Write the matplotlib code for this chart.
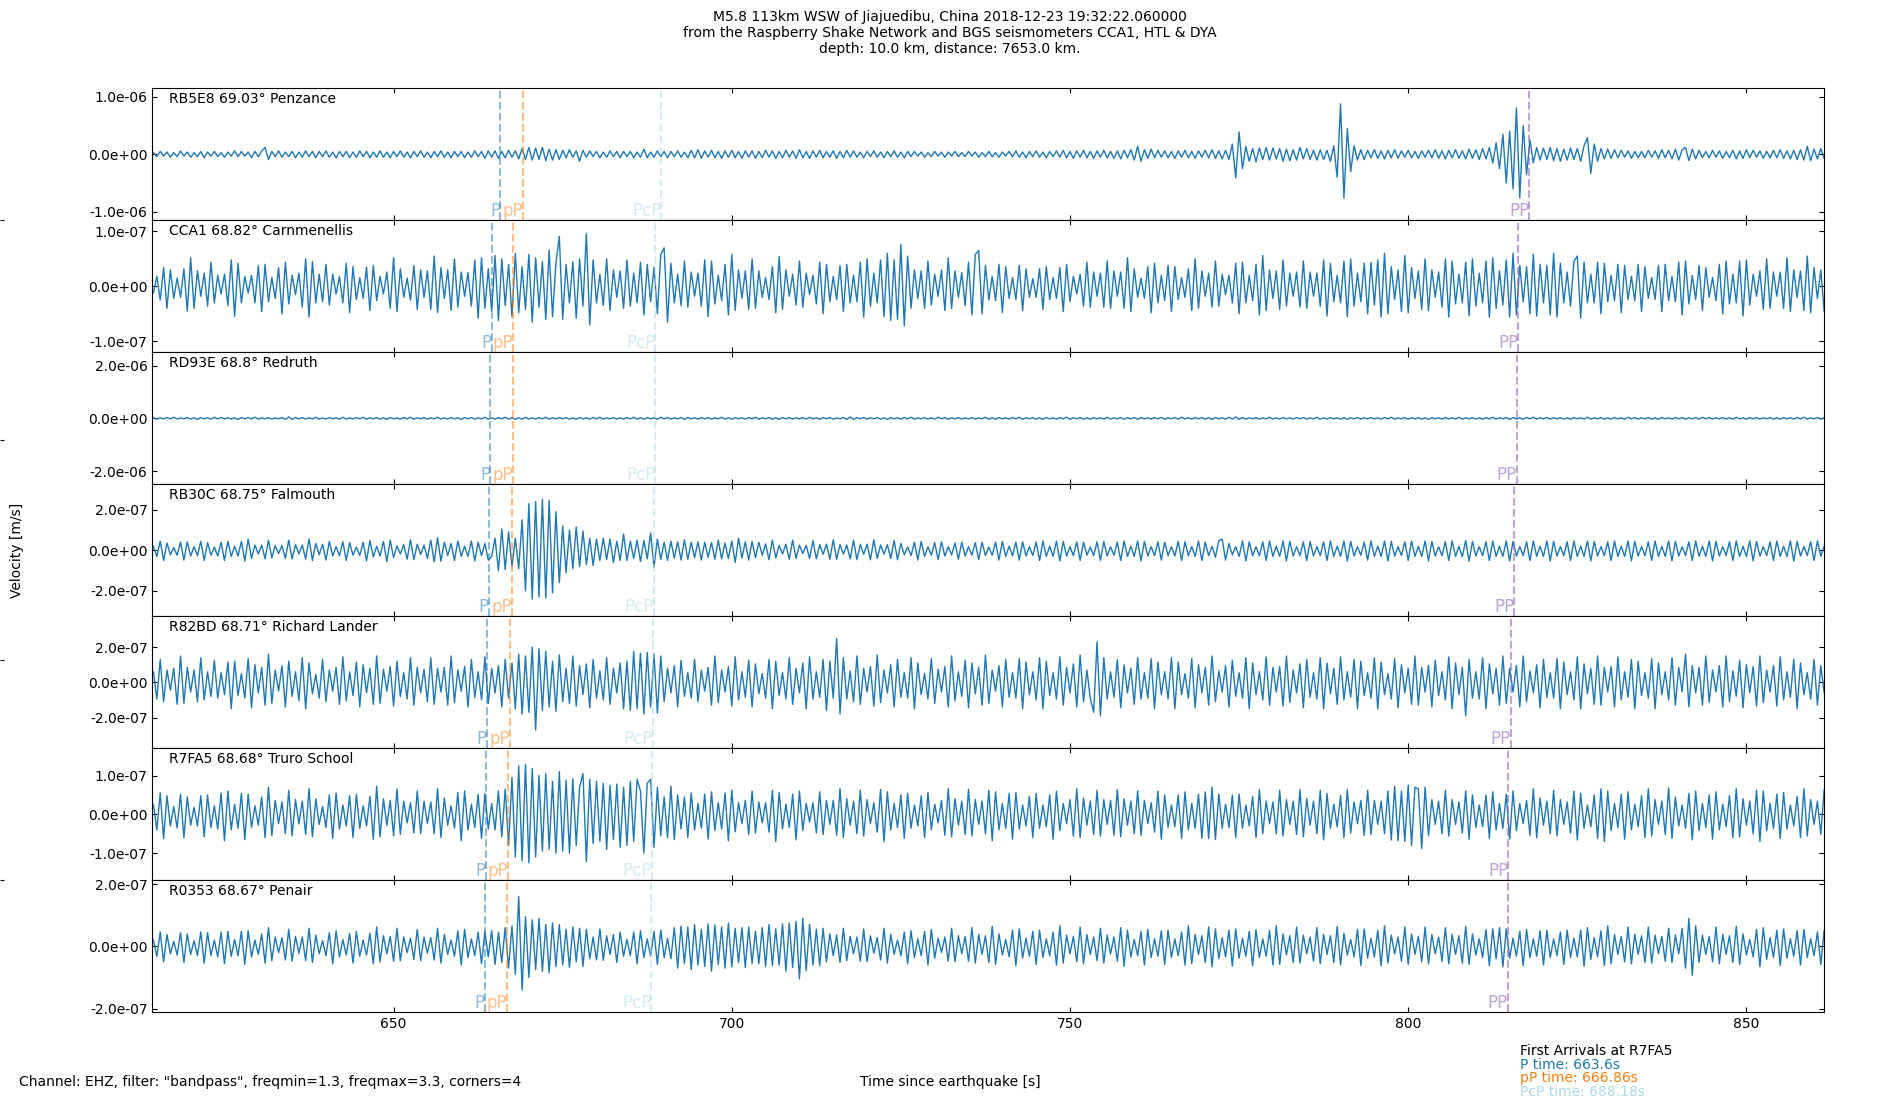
import numpy as np
import matplotlib
matplotlib.use('Agg')
import matplotlib.pyplot as plt
from matplotlib.ticker import FormatStrFormatter

# time of first sample and sample step of the traced peaks [s]
t0 = 614.5
dt = 0.5

stations = ['RB5E8', 'CCA1', 'RD93E', 'RB30C', 'R82BD', 'R7FA5', 'R0353']
distances = ['69.03', '68.82', '68.8', '68.75', '68.71', '68.68', '68.67']
locations = ['Penzance', 'Carnmenellis', 'Redruth', 'Falmouth', 'Richard Lander',
             'Truro School', 'Penair']
# unit of the numbers in each trace list [m/s]
units = [1e-8, 1e-9, 1e-8, 1e-9, 1e-9, 1e-9, 1e-9]
ylims = [1.15e-6, 1.2e-7, 2.5e-6, 3.25e-7, 3.75e-7, 1.7e-7, 2.12e-7]
tick_steps = [1e-6, 1e-7, 2e-6, 2e-7, 2e-7, 1e-7, 2e-7]

phases = ['P', 'pP', 'PcP', 'PP']
arrivals = [
    [665.8, 669.2, 689.6, 817.9],
    [664.5, 667.7, 688.7, 816.3],
    [664.3, 667.7, 688.7, 816.1],
    [664.1, 667.5, 688.5, 815.7],
    [663.8, 667.2, 688.3, 815.2],
    [663.6, 666.86, 688.18, 814.8],
    [663.5, 666.8, 688.1, 814.7],
]

# peak values, every 0.5 s (20 values = 10 s per row)
penzance = [
    3, -4, 5, -3, 4, -5, 3, -4, 6, -3, 4, -5, 3, -4, 5, -6, 4, -3, 5, -4,
    3, -5, 4, -3, 6, -4, 5, -3, 4, -6, 5, -4, 6, 12, -9, 5, -4, 6, -5, 4,
    -4, 5, -6, 4, -5, 6, -4, 5, -6, 5, -4, 6, -5, 4, -6, 5, -4, 5, -6, 4,
    -5, 6, -4, 5, -6, 4, -5, 6, -5, 4, -6, 5, -4, 6, -5, 4, -6, 5, -4, 6,
    -5, 4, -6, 5, -4, 6, -5, 4, -6, 5, -4, 5, -6, 4, -5, 6, -4, 5, -7, 6,
    -5, 6, -7, 5, -6, 7, -5, 6, -8, 10, -9, 12, -10, 11, -9, 12, -11, 9, -10, 8,
    -9, 7, -6, 8, -5, 6, -12, 7, -5, 6, -4, 5, -6, 4, -5, 6, -4, 5, -6, 5,
    -4, 5, -6, 4, -5, 9, -6, 4, -5, 6, -4, 5, -6, 5, -4, 6, -5, 4, -6, 7,
    -6, 8, -7, 6, -5, 7, -6, 5, -7, 6, -5, 7, -6, 5, -7, 6, -5, 6, -7, 5,
    -6, 7, -5, 6, -7, 5, -6, 7, -5, 6, -7, 8, -6, 5, -7, 6, -5, 7, -6, 5,
    -5, 6, -7, 5, -6, 7, -5, 6, -5, 4, -6, 5, -4, 6, -5, 4, -6, 5, -4, 6,
    -5, 4, -6, 5, -4, 5, -3, 4, -5, 3, -4, 5, -3, 4, -5, 4, -3, 5, -4, 3,
    -4, 5, -3, 4, -5, 3, -4, 5, -4, 3, -5, 4, -3, 5, -4, 6, -5, 4, -6, 5,
    -4, 6, -5, 4, -6, 5, -4, 6, -5, 7, -6, 5, -7, 6, -5, 7, -6, 5, -7, 6,
    -5, 7, -6, 5, -7, 6, -8, 7, -6, 8, -10, 14, -12, 8, -7, 9, -6, 7, -5, 6,
    -6, 5, -7, 6, -5, 7, -6, 5, -7, 6, -5, 7, -6, 8, -7, 6, -8, 7, -9, 18,
    -41, 39, -25, 14, -12, 10, -13, 11, -9, 12, -10, 11, -8, 10, -12, 9, -11, 8, -10, 12,
    -8, 10, -9, 7, -10, 8, -9, 7, -12, 15, -40, 88, -76, 45, -30, 15, -10, 8, -9, 7,
    -6, 8, -7, 6, -8, 7, -6, 8, -7, 6, -5, 7, -6, 5, -7, 6, -5, 7, -6, 8,
    -7, 6, -8, 7, -6, 8, -7, 6, -8, 9, -7, 8, -9, 10, -8, 12, -15, 20, -25, 35,
    -50, 40, -60, 81, -76, 50, -35, 25, -15, 12, -10, 11, -9, 12, -11, 10, -12, 9, -10, 11,
    -9, 10, -12, 15, 29, -33, 18, -12, 10, -8, 9, -7, 8, -6, 7, -5, 6, -7, 5, -6,
    5, -6, 7, -5, 6, -7, 8, -6, 7, -8, 9, -10, 8, 12, -11, 9, -8, 7, -6, 5,
    -6, 7, -5, 6, -7, 5, -6, 7, -8, 6, -7, 8, -6, 7, -5, 6, -7, 5, -6, 7,
    -6, 8, -7, 6, -8, 7, -9, 8, -10, 14, -11, 9, -8, 10, -7, 6,
]

carnmenellis = [
    -12, 18, -25, 34, -40, 30, -22, 15, -20, 32, -45, 52, -40, 28, -18, 24, -36, 44, -30, 20,
    -14, 22, -35, 48, -55, 42, -30, 18, -12, 20, -30, 38, -46, 40, -28, 16, -22, 34, -50, 44,
    -32, 20, -15, 24, -38, 50, -56, 45, -30, 22, -28, 40, -34, 22, -14, 18, -30, 42, -48, 36,
    -24, 16, -22, 35, -44, 38, -26, 18, -14, 26, -40, 52, -46, 32, -20, 15, -25, 38, -42, 30,
    -20, 28, -42, 55, -48, 34, -22, 30, -44, 50, -38, 26, -18, 25, -36, 48, -58, 52, -40, 32,
    -45, 56, -62, 50, -35, 40, -55, 60, -48, 36, -42, 58, -65, 52, -38, 45, -60, 66, -55, 42,
    91, -60, 40, -30, 45, -58, 50, -36, 96, -70, 48, -30, 22, -35, 50, -44, 30, -20, 28, -40,
    48, -36, 24, -30, 44, -52, 40, -28, 35, -50, 58, 70, -65, 42, -30, 22, -35, 46, -38, 26,
    -18, 24, -36, 48, -55, 46, -32, 20, -26, 40, -52, 58, -44, 30, -22, 28, -42, 50, -40, 28,
    -20, 16, -24, 36, -48, 54, -42, 30, -18, 22, -34, 46, -38, 24, -15, 20, -32, 44, -50, 40,
    -28, 18, -24, 38, -46, 40, -30, 20, -28, 44, -56, 50, -36, 24, -30, 48, -55, 60, -62, 48,
    -60, 76, -72, 55, -40, 30, -22, 28, -40, 46, -34, 22, -18, 30, -44, 52, -40, 28, -20, 25,
    -35, 44, -52, 58, 65, -50, 38, -25, 18, -26, 40, -48, 36, -22, 16, -24, 38, -44, 32, -20,
    14, -20, 32, -42, 36, -24, 16, -22, 34, -46, 40, -28, 18, -14, 22, -36, 44, -38, 26, -18,
    24, -38, 46, -40, 28, -18, 26, -40, 52, -46, 32, -20, 15, -22, 36, -48, 42, -30, 20, -26,
    38, -46, 36, -24, 16, -20, 32, -44, 50, -40, 28, -18, 24, -38, 46, -36, 22, -15, 20, -30,
    42, -50, 44, -30, 20, -26, 40, -52, 56, -44, 30, -22, 28, -42, 48, -36, 24, -18, 26, -38,
    46, -40, 26, -18, 24, -36, 48, -54, 42, -28, 20, -30, 46, -55, 50, -36, 24, -28, 42, -50,
    44, -34, 48, -56, 60, -50, 36, -24, 30, -46, 56, -48, 34, -22, 28, -42, 50, -44, 30, -20,
    26, -38, 50, -56, 46, -32, 22, -30, 44, -54, 50, -36, 24, -30, 46, -56, 52, -40, 28, -34,
    48, -56, 60, -52, 38, -28, 36, -50, 58, -54, 40, -30, 38, -52, 60, -56, 42, -30, 26, -36,
    45, 55, -58, 44, -30, 22, -30, 44, -50, 42, -28, 20, -26, 40, -48, 38, -24, 18, -26, 40,
    -46, 36, -22, 16, -24, 38, -46, 40, -26, 18, -28, 44, -52, 46, -32, 20, -24, 38, -44, 34,
    -20, 16, -26, 40, -50, 46, -32, 22, -30, 46, -54, 48, -34, 22, -18, 28, -42, 50, -40, 26,
    -18, 26, -40, 52, -46, 30, -20, 28, -44, 55, -48, 34, -22, 30, -46, 40,
]

redruth = [
    2, -3, 2, -2, 3, -2, 4, -3, 2, -2, 3, -3, 2, -4, 3, -2, 2, -3, 4, -2,
    3, -2, 2, -3, 2, -4, 3, -2, 3, -2, 4, -3, 2, -2, 3, -3, 2, -2, 3, -4,
    5, -4, 3, -2, 3, -3, 2, -2, 4, -3, 2, -3, 3, -2, 2, -3, 4, -3, 2, -2,
    3, -2, 4, -3, 2, -2, 3, -3, 2, -4, 3, -2, 2, -3, 3, -2, 4, -3, 2, -2,
    3, -3, 2, -2, 4, -3, 2, -3, 3, -2, 2, -4, 3, -2, 3, -3, 2, -2, 4, -3,
    2, -3, 3, -2, 4, -3, 3, -4, 2, -3, 4, -3, 2, -3, 3, -2, 4, -3, 2, -2,
    3, -2, 3, -3, 2, -4, 3, -2, 2, -3, 3, -2, 4, -3, 2, -2, 3, -3, 2, -3,
    3, -2, 4, -3, 2, -3, 3, -2, 2, -3, 4, -2, 3, -3, 2, -2, 3, -4, 3, -2,
    2, -3, 3, -2, 3, -3, 2, -2, 4, -3, 2, -3, 3, -2, 2, -3, 3, -2, 4, -3,
    2, -2, 3, -3, 2, -4, 3, -2, 3, -3, 2, -2, 3, -3, 4, -2, 2, -3, 3, -2,
    3, -3, 2, -2, 3, -4, 5, -4, 3, -2, 3, -3, 2, -2, 3, -3, 2, -4, 3, -2,
    2, -3, 3, -2, 4, -3, 2, -2, 3, -3, 2, -3, 4, -2, 3, -3, 2, -2, 3, -3,
    2, -2, 3, -3, 2, -2, 4, -3, 2, -3, 3, -2, 2, -3, 3, -2, 4, -3, 2, -2,
    3, -3, 2, -4, 3, -2, 2, -3, 3, -2, 4, -3, 2, -2, 3, -3, 2, -3, 3, -2,
    2, -3, 4, -3, 2, -2, 3, -3, 2, -2, 3, -4, 3, -2, 2, -3, 3, -2, 3, -3,
    2, -2, 3, -3, 4, -2, 2, -3, 3, -2, 3, -3, 2, -4, 3, -2, 2, -3, 4, -3,
    5, -4, 3, -3, 2, -2, 3, -3, 2, -2, 4, -3, 2, -3, 3, -2, 2, -3, 3, -2,
    3, -3, 2, -2, 4, -3, 2, -3, 3, -2, 2, -3, 3, -4, 2, -2, 3, -3, 2, -2,
    3, -2, 2, -3, 3, -2, 4, -3, 2, -2, 3, -3, 2, -2, 3, -3, 2, -4, 3, -2,
    2, -3, 3, -2, 2, -3, 4, -3, 2, -2, 3, -3, 2, -3, 3, -2, 4, -3, 2, -2,
    3, -4, 3, -2, 2, -3, 3, -2, 4, -3, 2, -2, 3, -3, 2, -2, 3, -3, 2, -3,
    3, -2, 2, -3, 4, -3, 2, -2, 3, -3, 2, -3, 3, -2, 2, -3, 4, -2, 3, -3,
    2, -2, 3, -3, 2, -4, 3, -2, 2, -3, 3, -2, 3, -3, 2, -2, 3, -3, 4, -2,
    3, -3, 2, -2, 3, -3, 2, -3, 4, -2, 2, -3, 3, -2, 3, -3, 2, -2, 3, -3,
    2, -3, 3, -2, 2, -3, 3, -2, 4, -3, 2, -2, 3, -3, 2, -2,
]

falmouth = [
    20, -30, 45, -50, 36, -22, 14, -24, 40, -48, 42, -28, 18, -26, 44, -50, 38, -24, 16, -28,
    40, -50, 44, -30, 20, -28, 44, -52, 55, -40, 26, -18, 26, -42, 50, -38, 24, -16, 24, -40,
    50, -42, 28, -18, 26, -44, 56, -50, 34, -22, 30, -48, 44, -28, 18, -26, 42, -50, 38, -24,
    16, -26, 40, -52, 48, -32, 20, -28, 44, -55, 50, -36, 22, -18, 28, -44, 52, -46, 30, -20,
    26, -40, 50, -56, 62, -54, 40, -26, 34, -50, 46, -30, 20, -30, 46, -52, 40, -26, 34, -48,
    -30, 60, -100, 105, -95, 90, -80, 60, -90, 150, -200, 230, -240, 240, -230, 250, -235, 245, -210, 190,
    -160, 120, -110, 100, -90, 115, -80, 95, -70, 60, -75, 55, -50, 60, -45, 55, -60, 45, -50, 80,
    -50, 45, -40, 50, -55, 48, -42, 86, -83, 55, -45, 40, -50, 45, -38, 42, -48, 52, -44, 40,
    -36, 42, -48, 40, -34, 38, -44, 50, -42, 36, -40, 46, -60, 60, -38, 42, -48, 44, -36, 40,
    -24, 32, -46, 50, -38, 24, -18, 30, -44, 50, -40, 26, -16, 24, -40, 48, -42, 28, -20, 30,
    -44, 52, -44, 28, -18, 26, -42, 50, -46, 30, -20, 30, -46, 52, -40, 26, -18, 28, -40, 48,
    -46, 34, -22, 16, -26, 40, -48, 44, -30, 18, -24, 38, -46, 42, -28, 18, -22, 36, -44, 40,
    -28, 18, -24, 38, -46, 40, -26, 16, -24, 40, -48, 44, -30, 20, -26, 40, -48, 42, -28, 18,
    -26, 40, -50, 46, -30, 20, -30, 46, -52, 44, -28, 18, -26, 42, -50, 40, -24, 16, -26, 42,
    -50, 44, -28, 18, -24, 40, -50, 46, -30, 20, -30, 46, -52, 44, -28, 18, -26, 42, -48, 40,
    -26, 18, -28, 44, -50, 42, -26, 18, -30, 46, -50, 40, -26, 20, -34, 48, 55, -48, 34, -22,
    18, -30, 46, -52, 42, -26, 18, -26, 42, -50, 46, -30, 20, -30, 46, -52, 44, -28, 18, -26,
    42, -50, 44, -28, 18, -26, 42, -50, 46, -30, 20, -30, 46, -52, 44, -28, 18, -24, 40, -48,
    46, -30, 20, -30, 46, -52, 44, -28, 18, -26, 42, -50, 46, -30, 20, -30, 46, -52, 44, -28,
    18, -26, 42, -50, 46, -30, 20, -32, 48, -54, 44, -28, 18, -26, 42, -50, 46, -30, 20, -30,
    46, -52, 44, -28, 18, -26, 42, -50, 46, -30, 20, -30, 46, -52, 44, -28, 18, -26, 42, -50,
    46, -30, 20, -30, 46, -52, 44, -28, 18, -26, 42, -50, 46, -30, 20, -30, 46, -52, 44, -28,
    18, -26, 42, -50, 46, -30, 20, -30, 46, -52, 44, -28, 18, -26, 42, -50, 46, -30, 20, -30,
    46, -52, 44, -28, 18, -26, 42, -50, 46, -30, 20, -30, 46, -52, 44, -28, 18, -26, 42, -50,
    46, -30, 20, -30, 46, -52, 44, -28, 18, -26, 42, -50, 46, -30, 20, -30,
]

richard_lander = [
    60, -95, 130, -110, 70, -45, 80, -125, 150, -120, 85, -55, 70, -110, 140, -100, 60, -80, 125, -90,
    55, -70, 115, -150, 120, -75, 50, -90, 135, -145, 100, -60, 85, -130, 160, -120, 70, -50, 95, -140,
    120, -80, 60, -105, 140, -150, 110, -65, 45, -90, 130, -110, 70, -50, 85, -125, 145, -105, 60, -75,
    115, -140, 100, -60, 80, -125, 150, -120, 75, -50, 90, -135, 120, -80, 55, -95, 140, -130, 85, -60,
    75, -110, 140, -125, 80, -55, 85, -130, 150, -115, 70, -50, 90, -140, 130, -85, 60, -100, 145, -120,
    80, -60, 95, -140, 130, -90, 110, -150, 160, -180, 150, -170, 200, -270, 190, -160, 175, -140, 120, -165,
    155, -110, 80, -120, 150, -135, 95, -70, 105, -145, 130, -90, 65, -100, 140, -125, 80, -60, 110, -150,
    120, -160, 175, -150, 165, -180, 170, -140, 160, -175, 150, -110, 80, -60, 95, -140, 125, -80, 55, -90,
    130, -110, 70, -50, 85, -130, 150, -115, 70, -55, 90, -135, 145, -100, 60, -85, 125, -140, 105, -65,
    50, -90, 130, -150, 120, -75, 55, -95, 140, -125, 80, -60, 110, -150, 145, -95, 60, -85, 130, -160,
    120, -90, 250, -180, 140, -95, 65, -110, 150, -125, 80, -55, 90, -135, 155, -115, 70, -60, 100, -140,
    130, -85, 55, -90, 140, -150, 110, -70, 50, -95, 135, -120, 75, -55, 90, -140, 150, -105, 60, -80,
    125, -145, 110, -65, 85, -130, 155, -120, 70, -50, 95, -140, 130, -85, 55, -90, 135, -150, 115, -70,
    60, -100, 140, -150, 120, -75, 55, -95, 145, -130, 85, -60, 105, -140, 155, -110, 70, -90, -170, 230,
    -190, 140, -95, 60, -85, 130, -145, 100, -60, 80, -125, 140, -95, 55, -90, 135, -150, 115, -70, 60,
    -95, 140, -150, 115, -70, 50, -90, 135, -145, 100, -60, 85, -130, 150, -110, 65, -55, 95, -140, 125,
    -80, 55, -90, 140, -150, 110, -70, 60, -100, 145, -130, 85, -55, 90, -135, 150, -115, 70, -60, 105,
    -145, 130, -85, 55, -95, 140, -150, 110, -65, 80, -125, 145, -100, 60, -85, 130, -150, 120, -75, 55,
    -90, 140, -150, 115, -70, 50, -95, 135, -145, 100, -60, 80, -125, 150, -130, 85, -55, 95, -140, 125,
    -75, 60, -100, 145, -150, 110, -70, 85, -190, 130, -90, 60, -95, 140, -150, 105, -65, 80, -130, 150,
    -120, 80, -55, 95, -140, 150, -110, 65, -60, 100, -145, 130, -85, 55, -90, 135, -150, 115, -70, 60,
    -100, 145, -150, 105, -65, 80, -125, 150, -130, 85, -55, 90, -140, 145, -100, 60, -85, 130, -150, 120,
    -75, 55, -90, 135, -150, 110, -70, 60, -100, 140, -130, 85, -55, 160, -140, 95, -60, 85, -130, 150,
    -115, 70, -55, 95, -140, 150, -110, 65, -80, 125, -145, 100, -60, 90, -135, 150, -115, 70, -55, 95,
    -135, 145, -100, 60, -85, 130, -150, 110, -70, 55, -95, 130, -130, 95, -60, 85,
]

truro = [
    25, -40, 55, -62, 48, -30, 20, -35, 52, -60, 45, -28, 18, -30, 48, -58, 50, -34, 22, -38,
    55, -68, 60, -40, 26, -36, 54, -65, 52, -34, 22, -28, 45, -60, 70, -55, 36, -24, 32, -50,
    62, -55, 38, -25, 34, -52, 66, -58, 40, -26, 20, -34, 50, -62, 55, -38, 24, -30, 48, -60,
    52, -36, 22, -30, 46, -64, 72, -58, 40, -28, 36, -55, 65, -52, 34, -22, 30, -48, 60, -50,
    34, -24, 32, -50, 66, -60, 42, -28, 22, -36, 56, -68, 60, -40, 26, -34, 52, -62, 54, -38,
    28, -40, 60, -58, 65, -80, 95, -110, 125, -120, 128, -125, 118, -110, 100, -95, 105, -90, 85, -100,
    110, -95, 88, -100, 92, -80, 70, 105, -122, 90, -75, 85, -70, 80, -90, 75, -65, 78, -85, 70,
    -80, 85, -70, 90, 60, -100, 80, 90, -85, 70, -55, 45, -60, 72, -65, 50, -38, 45, -60, 55,
    -40, 28, -36, 52, -64, 58, -42, 30, -38, 55, -68, 62, -45, 30, -24, 36, -52, 60, -48, 32,
    -22, 30, -46, 62, -70, 56, -38, 26, -34, 52, -66, 60, -42, 28, -20, 30, -48, 58, -52, 36,
    -26, 36, -54, 66, -60, 40, -28, 34, -50, 62, -56, 38, -24, 30, -46, 64, -70, 58, -40, 28,
    -34, 50, -62, 54, -36, 24, -30, 48, -60, 56, -40, 26, -22, 36, -54, 66, -58, 40, -28, 34,
    -52, 64, -56, 38, -26, 34, -50, 62, -68, 58, -40, 28, -36, 54, -64, 56, -38, 24, -30, 46,
    -60, 54, -36, 24, -32, 50, -64, 60, -42, 28, -24, 38, -56, 66, -60, 42, -28, 34, -52, 62,
    -56, 38, -26, 36, -54, 64, -58, 40, -28, 34, -50, 60, -54, 36, -24, 30, -46, 60, -64, 50,
    -34, 24, -32, 50, -62, 58, -40, 28, -36, 52, -62, 58, -62, 70, -65, 52, -36, 26, -34, 50,
    -60, 52, -36, 24, -30, 46, -60, 64, -50, 34, -24, 32, -50, 62, -56, 38, -26, 34, -52, 64,
    -58, 40, -28, 34, -50, 62, -66, 54, -36, 26, -32, 48, -60, 64, -48, 32, -24, 36, -54, 62,
    -52, 36, -26, 34, -50, 60, -66, 72, -68, 60, -70, 75, -80, 70, 65, -88, 70, -55, 38, -26,
    34, -50, 62, -56, 38, -26, 32, -48, 60, -64, 50, -34, 24, -32, 50, -62, 58, -40, 28, -36,
    52, -64, 60, -42, 28, -24, 36, -54, 66, -60, 42, -28, 34, -50, 62, -56, 38, -26, 32, -48,
    60, -66, 54, -36, 24, -32, 50, -62, 66, -70, 60, -42, 28, -34, 52, -64, 58, -40, 26, -32,
    48, -60, 66, -56, 38, -26, 34, -52, 68, -62, 44, -30, 24, -36, 54, -66, 60, -42, 28, -34,
    50, -64, 58, -40, 26, -32, 48, -60, 66, -58, 40, -28, 34, -50, 62, -70, 60, -42, 28, -36,
    52, -62, 56, -38, 24, -30, 46, -60, 66, -56, 38, -26, 34, -52, 64, -70,
]

penair = [
    20, -32, 46, -50, 38, -24, 16, -28, 44, -52, 40, -26, 18, -30, 46, -54, 44, -30, 20, -34,
    46, -56, 48, -32, 22, -30, 48, -58, 50, -34, 20, -26, 40, -54, 60, -46, 30, -20, 28, -44,
    55, -48, 32, -22, 30, -46, 58, -52, 36, -24, 18, -30, 44, -56, 50, -34, 22, -28, 42, -54,
    48, -32, 20, -28, 42, -56, 62, -50, 34, -24, 32, -48, 58, -46, 30, -20, 26, -42, 54, -46,
    30, -22, 28, -44, 58, -54, 38, -26, 20, -32, 50, -60, 54, -36, 24, -30, 46, -56, 48, -34,
    50, -58, 45, -52, 60, -70, 65, -90, 160, -140, 95, -100, 85, -75, 90, -80, 70, -85, 75, -65,
    70, -60, 55, -68, 62, -50, 58, -65, 55, -40, 30, -44, 56, -45, 34, -26, 38, -52, 46, -32,
    22, -30, 46, -56, 50, -36, 24, -32, 48, -58, 52, -36, 26, -40, 60, -70, 65, -55, 62, -75,
    70, -60, 55, -65, 72, -80, 68, -58, 62, -70, 75, -66, 58, -52, 60, -68, 62, -55, 48, -56,
    60, -65, 70, -62, 56, -60, 72, -80, 75, -68, 80, -105, 90, -78, 70, -60, 55, -62, 58, -50,
    40, -30, 36, -52, 58, -46, 32, -24, 30, -48, 56, -50, 34, -22, 28, -44, 58, -54, 38, -26,
    20, -30, 46, -56, 50, -36, 24, -30, 48, -60, 54, -38, 26, -20, 30, -48, 58, -50, 34, -24,
    32, -48, 60, -54, 38, -26, 34, -52, 64, -58, 40, -28, 22, -34, 52, -62, 56, -38, 26, -32,
    48, -58, 52, -36, 24, -30, 46, -60, 66, -54, 36, -24, 32, -50, 62, -56, 38, -26, 30, -46,
    58, -54, 36, -24, 30, -48, 60, -64, 52, -34, 22, -30, 48, -60, 54, -36, 24, -32, 50, -58,
    52, -36, 24, -30, 46, -60, 66, -56, 38, -26, 34, -52, 62, -66, 56, -40, 28, -34, 52, -64,
    56, -38, 26, -32, 48, -62, 54, -36, 24, -32, 50, -60, 66, -58, 40, -28, 34, -52, 62, -54,
    36, -24, 30, -48, 60, -56, 38, -26, 34, -52, 64, -60, 42, -28, 22, -34, 54, -62, 56, -38,
    26, -34, 52, -62, 66, -54, 36, -24, 30, -48, 62, -58, 40, -26, 32, -50, 62, -56, 38, -24,
    30, -48, 60, -56, 38, -26, 34, -54, 64, -58, 40, -28, 24, -36, 54, -62, 56, -40, 60, -66,
    56, -38, 26, -32, 48, -62, 54, -36, 24, -32, 50, -60, 52, -36, 24, -30, 46, -58, 52, -36,
    26, -34, 52, -64, 60, -42, 28, -34, 50, -62, 66, -56, 38, -26, 32, -50, 62, -56, 38, -26,
    34, -52, 62, -54, 36, -24, 32, -48, 58, -52, 36, -24, 58, -70, 90, -93, 66, -52, 36, -26,
    32, -50, 62, -56, 38, -26, 34, -52, 64, -58, 40, -28, 22, -34, 54, -66, 60, -42, 28, -36,
    52, -62, 56, -38, 24, -32, 50, -60, 54, -36, 24, -30, 46, -58, 52, -36,
]

traces = [penzance, carnmenellis, redruth, falmouth, richard_lander, truro, penair]

phase_colors = ['C0', 'C1', 'lightblue', 'C4']
phase_alpha = [0.5, 0.5, 0.5, 0.6]

fig, axes = plt.subplots(7, 1, figsize=(19, 11), dpi=100, sharex=True)
fig.subplots_adjust(left=0.0802, right=0.9602, top=0.9197, bottom=0.0797, hspace=0)

# frameless full-figure axes (only its small left ticks show)
bg = fig.add_axes([0, 0, 1, 1], frameon=False, zorder=-1)
bg.set_xticks([])
bg.set_yticks([0.2, 0.4, 0.6, 0.8])
bg.set_ylim(0, 1)
bg.tick_params(axis='y', direction='in', length=3, labelleft=False)

for i, ax in enumerate(axes):
    y = np.array(traces[i]) * units[i]
    t = t0 + dt * np.arange(len(y))
    ax.plot(t, y, color='C0', lw=1)
    ax.set_ylim(-ylims[i], ylims[i])
    ax.set_yticks([-tick_steps[i], 0, tick_steps[i]])
    ax.yaxis.set_major_formatter(FormatStrFormatter('%.1e'))
    ax.tick_params(direction='in', top=True, right=True, labelsize=10)
    for ph, at, c, a in zip(phases, arrivals[i], phase_colors, phase_alpha):
        ax.axvline(at, color=c, ls='--', lw=1.5, alpha=a)
        ax.text(at, -ylims[i], ph, ha='right', va='bottom', color=c, alpha=a, fontsize=12)
    ax.text(0.01, 0.97, f'{stations[i]} {distances[i]}° {locations[i]}',
            transform=ax.transAxes, va='top', ha='left', fontsize=10)

axes[-1].set_xlim(614.34, 861.53)
axes[-1].set_xticks([650, 700, 750, 800, 850])

fig.suptitle('M5.8 113km WSW of Jiajuedibu, China 2018-12-23 19:32:22.060000\n'
             'from the Raspberry Shake Network and BGS seismometers CCA1, HTL & DYA\n'
             'depth: 10.0 km, distance: 7653.0 km.', fontsize=10, y=0.991)

fig.text(0.009, 0.5, 'Velocity [m/s]', rotation=90, ha='center', va='center', fontsize=10)
fig.text(0.5, 0.0166, 'Time since earthquake [s]', ha='center', va='center', fontsize=10)
fig.text(0.0102, 0.0166, 'Channel: EHZ, filter: "bandpass", freqmin=1.3, freqmax=3.3, corners=4',
         ha='left', va='center', fontsize=10)

fig.text(0.8, 0.0445, 'First Arrivals at R7FA5', ha='left', va='center', fontsize=10)
fig.text(0.8, 0.0318, 'P time: 663.6s', ha='left', va='center', color='C0', fontsize=10)
fig.text(0.8, 0.0197, 'pP time: 666.86s', ha='left', va='center', color='C1', fontsize=10)
fig.text(0.8, 0.0075, 'PcP time: 688.18s', ha='left', va='center', color='lightblue', fontsize=10)

fig.savefig('out.png', dpi=100)
